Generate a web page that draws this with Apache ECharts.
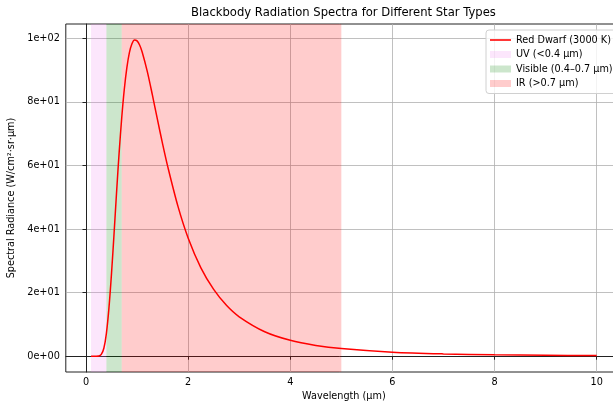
<!DOCTYPE html>
<html>
<head>
<meta charset="utf-8">
<script src="https://cdn.jsdelivr.net/npm/echarts@6/dist/echarts.min.js"></script>
<style>
  html, body { margin: 0; padding: 0; background: #fff; }
  #chart { width: 613px; height: 402px; }
</style>
</head>
<body>
<div id="chart"></div>
<script>
// wavelength (um) and spectral radiance (W/cm2/sr/um)
var wavelength = [0.1, 0.2, 0.25, 0.3, 0.35, 0.4, 0.45, 0.5, 0.55, 0.6, 0.65, 0.7, 0.75, 0.8,
  0.85, 0.9, 0.95, 1.0, 1.05, 1.1, 1.2, 1.3, 1.4, 1.5, 1.6, 1.8, 2.0, 2.25, 2.5, 2.75,
  3.0, 3.5, 4.0, 4.5, 5.0, 6.0, 7.0, 8.0, 9.0, 10.0];
var radiance = [0, 0.001, 0.06, 0.56, 2.5, 7.2, 15.2, 26.0, 38.6, 51.8, 64.2, 75.0, 83.9, 90.7,
  95.5, 98.3, 99.5, 99.2, 97.9, 95.7, 89.6, 82.2, 74.4, 66.8, 59.7, 47.2, 37.2, 27.8, 21.0, 16.0,
  12.4, 7.7, 5.0, 3.4, 2.4, 1.25, 0.72, 0.44, 0.29, 0.19];

var bandNames = ['UV (<0.4 µm)', 'Visible (0.4–0.7 µm)', 'IR (>0.7 µm)'];
var bandRanges = [[0.1, 0.4], [0.4, 0.7], [0.7, 5.0]];
var bandColors = ['rgba(238,130,238,0.2)', 'rgba(0,128,0,0.2)', 'rgba(255,0,0,0.2)'];

var xTicks = [0, 2, 4, 6, 8, 10];
var yTicks = [0, 20, 40, 60, 80, 100];

var seriesName = 'Red Dwarf (3000 K)';

function sci(v) {
  if (v === 0) return '0e+00';
  var e = Math.floor(Math.log10(Math.abs(v)));
  var m = Math.round(v / Math.pow(10, e));
  return m + 'e+' + String(e).padStart(2, '0');
}

var font = 'DejaVu Sans';
var chart = echarts.init(document.getElementById('chart'));

var points = wavelength.map(function (w, i) { return [w, radiance[i]]; });

var series = [{
  name: seriesName,
  type: 'line',
  data: points,
  symbol: 'none',
  smooth: 0.3,
  z: 5,
  itemStyle: { color: '#ff0000' },
  lineStyle: { color: '#ff0000', width: 1.5 }
}];

bandNames.forEach(function (n, i) {
  series.push({
    name: n,
    type: 'line',
    data: [],
    itemStyle: { color: bandColors[i] },
    lineStyle: { color: bandColors[i] },
    markArea: {
      silent: true,
      itemStyle: { color: bandColors[i] },
      data: [[{ xAxis: bandRanges[i][0] }, { xAxis: bandRanges[i][1] }]]
    }
  });
});

// legend: a thin line for the curve, filled patches for the bands
var legendData = [{ name: seriesName, icon: 'path://M0,0h20v1.5h-20z', itemStyle: { color: '#ff0000' } }];
bandNames.forEach(function (n, i) {
  legendData.push({ name: n, icon: 'rect', itemStyle: { color: bandColors[i], borderWidth: 0 } });
});

var option = {
  animation: false,
  backgroundColor: '#fff',
  textStyle: { fontFamily: font },
  graphic: [{
    type: 'text',
    x: 343.5,
    y: 13,
    style: {
      text: 'Blackbody Radiation Spectra for Different Star Types',
      fontFamily: font,
      fontSize: 11.6,
      fill: '#000',
      textAlign: 'center',
      textVerticalAlign: 'middle'
    }
  }],
  grid: {
    left: 65.8,
    right: -9,
    top: 24,
    bottom: 30,
    containLabel: false,
    outerBoundsMode: 'none',
    show: true,
    borderColor: '#222',
    borderWidth: 1
  },
  legend: {
    orient: 'vertical',
    left: 486,
    top: 30,
    padding: [5, 4, 5, 4],
    itemWidth: 21,
    itemHeight: 7,
    itemGap: 4.5,
    symbolKeepAspect: true,
    backgroundColor: 'rgba(255,255,255,0.8)',
    borderColor: '#d0d0d0',
    borderWidth: 1,
    borderRadius: 3,
    textStyle: { fontFamily: font, fontSize: 9.7, color: '#000' },
    data: legendData
  },
  xAxis: {
    type: 'value',
    min: -0.395,
    max: 10.495,
    name: 'Wavelength (µm)',
    nameLocation: 'middle',
    nameGap: 17,
    nameTextStyle: { fontFamily: font, fontSize: 9.7, color: '#000' },
    axisLine: { show: true, lineStyle: { color: '#222', width: 1 } },
    axisTick: { show: true, length: 3.5, customValues: xTicks, lineStyle: { color: '#222' } },
    axisLabel: { customValues: xTicks, margin: 5, fontFamily: font, fontSize: 9.7, color: '#000' },
    splitLine: { show: true, lineStyle: { color: '#b0b0b0', width: 0.8 } }
  },
  yAxis: {
    type: 'value',
    min: -4.97,
    max: 104.5,
    name: 'Spectral Radiance (W/cm²·sr·µm)',
    nameLocation: 'middle',
    nameGap: 42,
    nameRotate: 90,
    nameTextStyle: { fontFamily: font, fontSize: 9.7, color: '#000' },
    axisLine: { show: true, lineStyle: { color: '#222', width: 1 } },
    axisTick: { show: true, length: 3.5, customValues: yTicks, lineStyle: { color: '#222' } },
    axisLabel: { customValues: yTicks, margin: 6, fontFamily: font, fontSize: 9.7, color: '#000', formatter: sci },
    splitLine: { show: true, lineStyle: { color: '#b0b0b0', width: 0.8 } }
  },
  series: series
};

chart.setOption(option);
</script>
</body>
</html>
